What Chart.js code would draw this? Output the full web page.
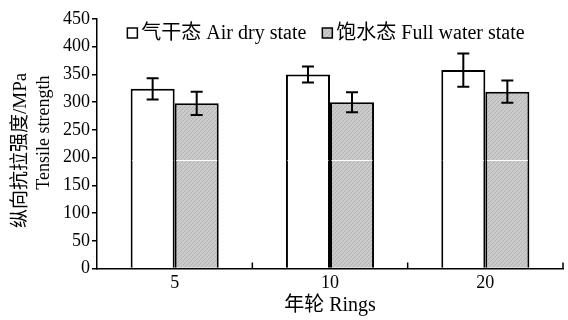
<!DOCTYPE html>
<html>
<head>
<meta charset="utf-8">
<script src="https://cdn.jsdelivr.net/npm/chart.js@4.4.0/dist/chart.umd.min.js"></script>
<style>
html,body{margin:0;padding:0;background:#fff;}
#wrap{width:568px;height:320px;}
</style>
</head>
<body>
<div id="wrap"><canvas id="c" width="568" height="320"></canvas></div>
<script>
const categories = ['5', '10', '20'];
const airDry = [324, 350, 358];
const airDryErr = [19, 14.5, 30];
const fullWater = [298, 300, 319];
const fullWaterErr = [21, 18, 20];
const yTicks = [0, 50, 100, 150, 200, 250, 300, 350, 400, 450];
const seriesLabels = ['气干态 Air dry state', '饱水态 Full water state'];
const yTitle = ['纵向抗拉强度/MPa', 'Tensile strength'];
const xTitle = '年轮 Rings';
const artifactValue = 195;

const FONT = '"Liberation Serif", "Noto Sans CJK SC", serif';

function makeHatch() {
  const c = document.createElement('canvas');
  c.width = 4; c.height = 4;
  const g = c.getContext('2d');
  g.fillStyle = '#cbcbcb';
  g.fillRect(0, 0, 4, 4);
  g.strokeStyle = '#b2b2b2';
  g.lineWidth = 1;
  g.beginPath();
  g.moveTo(0, 4); g.lineTo(4, 0);
  g.moveTo(-1, 1); g.lineTo(1, -1);
  g.moveTo(3, 5); g.lineTo(5, 3);
  g.stroke();
  return g.createPattern(c, 'repeat');
}
const ctx0 = document.getElementById('c').getContext('2d');
const hatch = makeHatch();

const errs = [airDryErr, fullWaterErr];

const extras = {
  id: 'extras',
  afterDatasetsDraw(chart) {
    const ctx = chart.ctx;
    const y = chart.scales.y;
    const ca = chart.chartArea;
    const ay = Math.round(y.getPixelForValue(artifactValue)) + 0.5;
    ctx.save();
    ctx.strokeStyle = '#ffffff';
    ctx.lineWidth = 1;
    chart.data.datasets.forEach((ds, di) => {
      chart.getDatasetMeta(di).data.forEach(bar => {
        const half = bar.width / 2;
        ctx.beginPath();
        ctx.moveTo(bar.x - half + 1.5, ay);
        ctx.lineTo(bar.x + half - 1.5, ay);
        ctx.stroke();
      });
    });
    ctx.strokeStyle = '#000';
    ctx.lineWidth = 2;
    chart.data.datasets.forEach((ds, di) => {
      chart.getDatasetMeta(di).data.forEach((bar, i) => {
        const v = ds.data[i], e = errs[di][i];
        const yt = y.getPixelForValue(v + e), yb = y.getPixelForValue(v - e);
        const x = bar.x, cw = 6;
        ctx.beginPath();
        ctx.moveTo(x, yt); ctx.lineTo(x, yb);
        ctx.moveTo(x - cw, yt); ctx.lineTo(x + cw, yt);
        ctx.moveTo(x - cw, yb); ctx.lineTo(x + cw, yb);
        ctx.stroke();
      });
    });
    const xs = chart.scales.x;
    const n = categories.length;
    ctx.lineWidth = 1.5;
    for (let i = 1; i <= n; i++) {
      const px = xs.left + (xs.right - xs.left) * i / n;
      ctx.beginPath();
      ctx.moveTo(px, ca.bottom);
      ctx.lineTo(px, ca.bottom - 6);
      ctx.stroke();
    }
    ctx.restore();
  },
  afterDraw(chart) {
    const ctx = chart.ctx;
    const ca = chart.chartArea;
    ctx.save();
    // legend
    ctx.font = '20px ' + FONT;
    ctx.textBaseline = 'middle';
    const box = 10, gapT = 4, gapI = 16;
    const widths = seriesLabels.map(s => ctx.measureText(s).width);
    const total = widths.reduce((a, w) => a + box + gapT + w, 0) + gapI;
    let x = (ca.left + ca.right) / 2 - total / 2 - 4;
    const yc = ca.top + 14;
    seriesLabels.forEach((s, i) => {
      ctx.fillStyle = i === 0 ? '#fff' : hatch;
      ctx.fillRect(x, yc - box / 2, box, box);
      ctx.strokeStyle = '#000';
      ctx.lineWidth = 1.5;
      ctx.strokeRect(x, yc - box / 2, box, box);
      ctx.fillStyle = '#000';
      ctx.fillText(s, x + box + gapT, yc + 1);
      x += box + gapT + widths[i] + gapI;
    });
    // y title (two lines)
    const ys = chart.scales.y;
    const mids = [ys.getPixelForValue(213), ys.getPixelForValue(245)];
    const sizes = [19, 18];
    const xsPos = [21, 44];
    ctx.textAlign = 'center';
    ctx.textBaseline = 'middle';
    ctx.fillStyle = '#000';
    yTitle.forEach((t, i) => {
      ctx.save();
      ctx.font = sizes[i] + 'px ' + FONT;
      ctx.translate(xsPos[i], mids[i]);
      ctx.rotate(-Math.PI / 2);
      ctx.fillText(t, 0, 0);
      ctx.restore();
    });
    ctx.restore();
  }
};

new Chart(ctx0, {
  type: 'bar',
  data: {
    labels: categories,
    datasets: [
      { label: seriesLabels[0], data: airDry, backgroundColor: '#ffffff', borderColor: '#000', borderWidth: 2, borderSkipped: 'bottom' },
      { label: seriesLabels[1], data: fullWater, backgroundColor: hatch, borderColor: '#000', borderWidth: 2, borderSkipped: 'bottom' }
    ]
  },
  options: {
    responsive: false,
    animation: false,
    devicePixelRatio: 1,
    layout: { padding: { left: 0, right: 5, top: 19, bottom: 0 } },
    plugins: { legend: { display: false }, tooltip: { enabled: false } },
    datasets: { bar: { categoryPercentage: 0.567, barPercentage: 1 } },
    scales: {
      x: {
        afterFit(s) { s.height = 51.5; },
        grid: { display: false, drawTicks: false },
        border: { display: true, color: '#000', width: 1.5 },
        ticks: { color: '#000', font: { family: FONT, size: 18 }, padding: 4 },
        title: { display: true, text: xTitle, color: '#000', font: { family: FONT, size: 20 }, padding: { top: 0, bottom: 2 } }
      },
      y: {
        min: 0, max: 450,
        afterFit(s) { s.width = 97; },
        afterBuildTicks(s) { s.ticks = yTicks.map(v => ({ value: v })); },
        grid: { drawOnChartArea: false, drawTicks: true, tickLength: 5, color: '#000', lineWidth: 1.5 },
        border: { display: true, color: '#000', width: 1.5 },
        ticks: { color: '#000', font: { family: FONT, size: 18 }, padding: 2 },
        title: { display: false }
      }
    }
  },
  plugins: [extras]
});
</script>
</body>
</html>
